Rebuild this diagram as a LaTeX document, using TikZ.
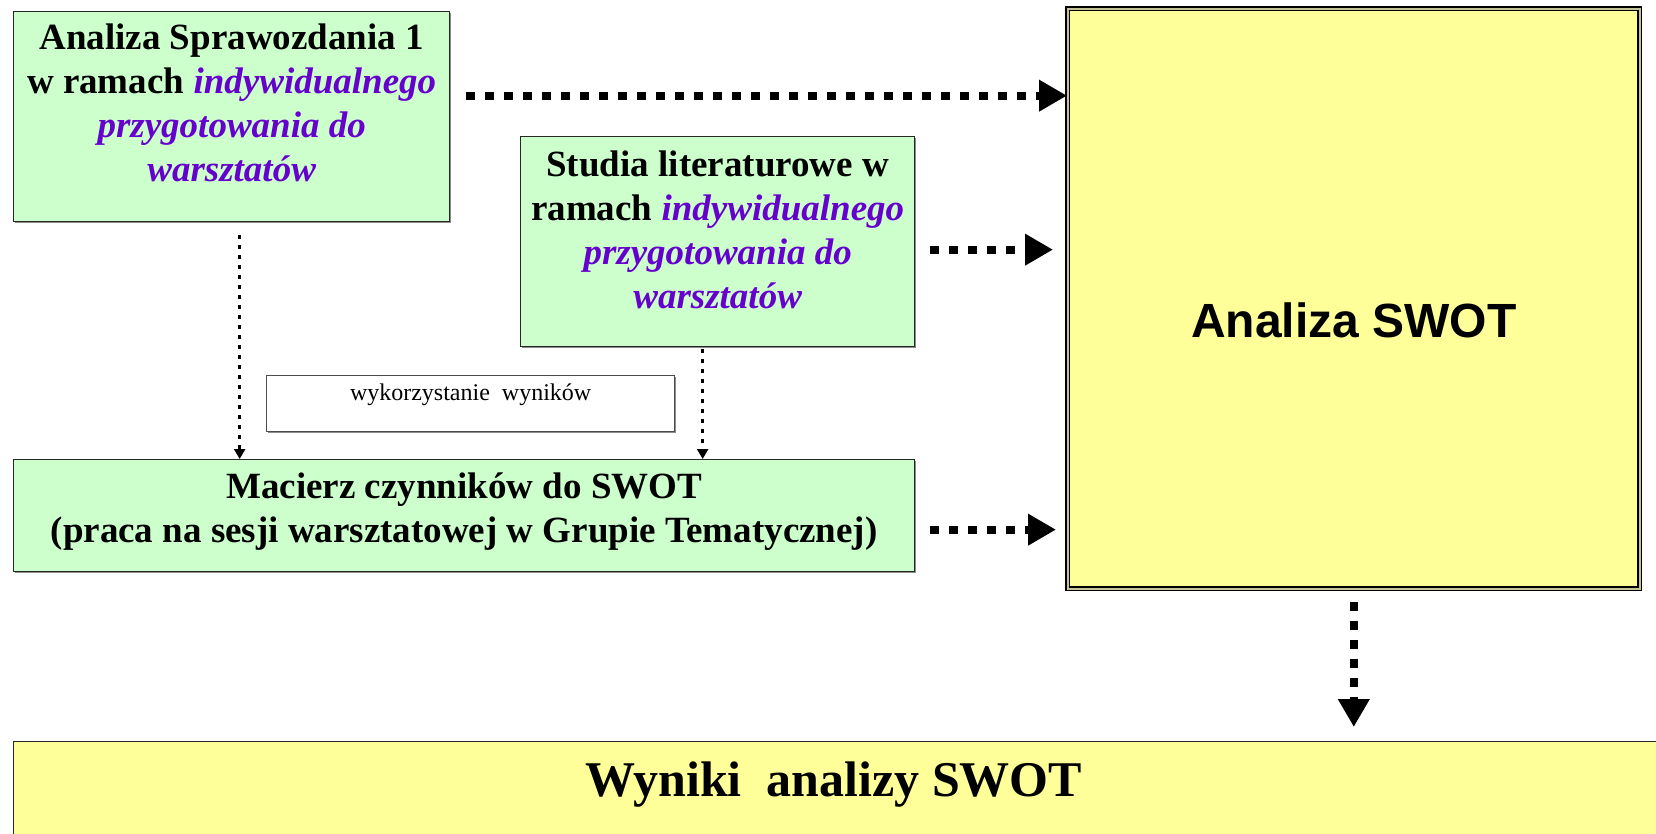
\documentclass[tikz,border=0pt]{standalone}
\usepackage{fontspec}
\setmainfont{Liberation Serif}
\newfontfamily\swotsans{Liberation Sans}
\usepackage{xcolor}
\usetikzlibrary{positioning, arrows.meta, shadows}

\definecolor{mintfill}{HTML}{CCFFCC}
\definecolor{lemonfill}{HTML}{FFFF99}
\definecolor{violettext}{HTML}{6600CC}

\newcommand{\indyw}[1]{\textcolor{violettext}{\itshape #1}}
% text hung from the top edge of a box: width, height, top gap, text
\newcommand{\boxtext}[4]{\parbox[c][#2][t]{#1}{\centering\vspace*{#3}\strut#4}}

\begin{document}
\begin{tikzpicture}[x=1pt, y=-1pt,
    box/.style={draw=black!85, line width=1.3pt, inner sep=0pt, anchor=north west,
      drop shadow={shadow xshift=1.2pt, shadow yshift=-1.5pt, fill=black!45, opacity=1}},
    greenbox/.style={box, fill=mintfill, font=\fontsize{37}{44}\selectfont\bfseries},
    fatdots/.style={line width=8pt, dash pattern=on 9pt off 10pt,
      -{Triangle[length=28pt, width=30pt]}},
    thindots/.style={line width=3pt, dash pattern=on 3.5pt off 6.5pt,
      -{Triangle[length=10pt, width=11pt]}}]
  \clip (0,0) rectangle (1656,834);

  \node[greenbox] (spraw) at (13,11) {\boxtext{436pt}{210pt}{7pt}{Analiza Sprawozdania 1\\
    w ramach \indyw{indywidualnego}\\ \indyw{przygotowania do}\\ \indyw{warsztatów}}};
  \node[greenbox] (studia) at (520,136) {\boxtext{394pt}{210pt}{9pt}{Studia literaturowe w\\
    ramach \indyw{indywidualnego}\\ \indyw{przygotowania do}\\ \indyw{warsztatów}}};
  \node[box, fill=white, draw=black!70, font=\fontsize{24}{29}\selectfont] (wynik) at (266,375)
    {\boxtext{408pt}{56pt}{5pt}{wykorzystanie\ \ wyników}};
  \node[greenbox] (macierz) at (13,459) {\boxtext{901pt}{112pt}{8pt}{Macierz czynników do SWOT\\
    (praca na sesji warsztatowej w Grupie Tematycznej)}};

  \node[draw=black, line width=1.6pt, double={rgb,255:red,196;green,196;blue,150}, double distance=2pt,
    fill=lemonfill, inner sep=0pt, anchor=north west, font=\fontsize{48}{55}\selectfont\bfseries]
    (swot) at (1067,8) {\boxtext{572pt}{580pt}{290pt}{\swotsans Analiza SWOT}};
  \node[box, fill=lemonfill, font=\fontsize{50}{60}\selectfont\bfseries] (wyniki) at (13,741)
    {\boxtext{1700pt}{150pt}{13pt}{\hspace*{-60pt}Wyniki\ \ analizy SWOT}};

  % inputs to the SWOT box
  \draw[fatdots, shorten <=16pt] ([yshift=21pt]spraw.east) -- ([yshift=21pt]spraw.east -| swot.west);
  \draw[fatdots, shorten <=15pt, shorten >=14pt] ([yshift=-8pt]studia.east) -- ([yshift=-8pt]studia.east -| swot.west);
  \draw[fatdots, shorten <=15pt, shorten >=11pt] ([yshift=-14pt]macierz.east) -- ([yshift=-14pt]macierz.east -| swot.west);
  \draw[fatdots, shorten <=12pt, shorten >=14pt] (swot.south) -- (swot.south |- wyniki.north);

  % results reused in the matrix
  \draw[thindots, shorten <=13pt] ([xshift=8pt]spraw.south) -- ([xshift=8pt]spraw.south |- macierz.north);
  \draw[thindots, shorten <=2pt] ([xshift=-15pt]studia.south) -- ([xshift=-15pt]studia.south |- macierz.north);
\end{tikzpicture}
\end{document}
